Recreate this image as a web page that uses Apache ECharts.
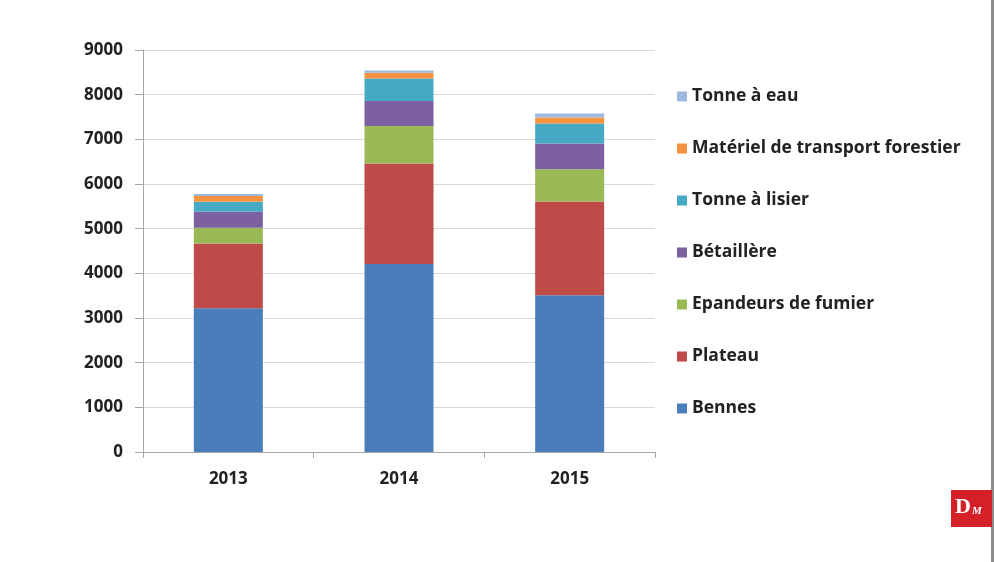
<!DOCTYPE html>
<html>
<head>
<meta charset="utf-8">
<script src="https://cdn.jsdelivr.net/npm/echarts@6/dist/echarts.min.js"></script>
<style>html,body{margin:0;padding:0;background:#fff;}#c{width:994px;height:562px;}</style>
</head>
<body>
<div id="c"></div>
<script>
const categories = ['2013', '2014', '2015'];
const bennes = [3220, 4210, 3510];
const plateau = [1450, 2250, 2100];
const epandeurs = [350, 840, 720];
const betaillere = [360, 560, 575];
const tonneLisier = [220, 500, 450];
const materielForestier = [130, 130, 135];
const tonneEau = [45, 50, 90];
const yTicks = [0, 1000, 2000, 3000, 4000, 5000, 6000, 7000, 8000, 9000];

const seriesDefs = [
  ['Bennes', bennes, '#4A7EBB'],
  ['Plateau', plateau, '#BE4B48'],
  ['Epandeurs de fumier', epandeurs, '#98B954'],
  ['Bétaillère', betaillere, '#7D60A0'],
  ['Tonne à lisier', tonneLisier, '#46AAC5'],
  ['Matériel de transport forestier', materielForestier, '#F69240'],
  ['Tonne à eau', tonneEau, '#9DB9E0']
];

const chart = echarts.init(document.getElementById('c'));
chart.setOption({
  backgroundColor: '#fff',
  animation: false,
  grid: { left: 143, right: 339, top: 50, bottom: 110, containLabel: false },
  legend: {
    orient: 'vertical',
    left: 672,
    top: 80,
    itemGap: 29,
    itemWidth: 10,
    itemHeight: 10,
    icon: 'rect',
    textStyle: { fontFamily: 'Open Sans', fontWeight: 'bold', fontSize: 17.5, color: '#222', lineHeight: 23 },
    data: seriesDefs.map(s => s[0]).reverse()
  },
  xAxis: {
    type: 'category',
    data: categories,
    axisLine: { lineStyle: { color: '#a6a6a6' } },
    axisTick: { show: true, alignWithLabel: false, length: 6, lineStyle: { color: '#a6a6a6' } },
    axisLabel: { margin: 19, fontFamily: 'Open Sans', fontWeight: 'bold', fontSize: 17, color: '#222' }
  },
  yAxis: {
    type: 'value',
    min: yTicks[0],
    max: yTicks[yTicks.length - 1],
    interval: 1000,
    axisLine: { show: true, lineStyle: { color: '#a6a6a6' } },
    axisTick: { show: true, inside: false, length: 8, lineStyle: { color: '#a6a6a6' } },
    splitLine: { lineStyle: { color: '#d9d9d9' } },
    axisLabel: { margin: 20, fontFamily: 'Open Sans', fontWeight: 'bold', fontSize: 17, color: '#222', formatter: v => String(v) }
  },
  series: seriesDefs.map(s => ({
    name: s[0],
    type: 'bar',
    stack: 'total',
    data: s[1],
    barWidth: 69,
    itemStyle: { color: s[2] }
  })),
  graphic: [
    { type: 'rect', shape: { x: 991, y: 0, width: 3, height: 562 }, style: { fill: '#8c8c8c' } },
    { type: 'rect', shape: { x: 951, y: 490, width: 41, height: 37 }, style: { fill: '#D42027' } },
    { type: 'text', left: 955, top: 496, style: { text: 'D', fill: '#fff', font: 'bold 22px "Liberation Serif"' } },
    { type: 'text', left: 972, top: 506, style: { text: 'M', fill: '#fff', font: 'italic bold 11px "Liberation Serif"' } }
  ]
});
</script>
</body>
</html>
